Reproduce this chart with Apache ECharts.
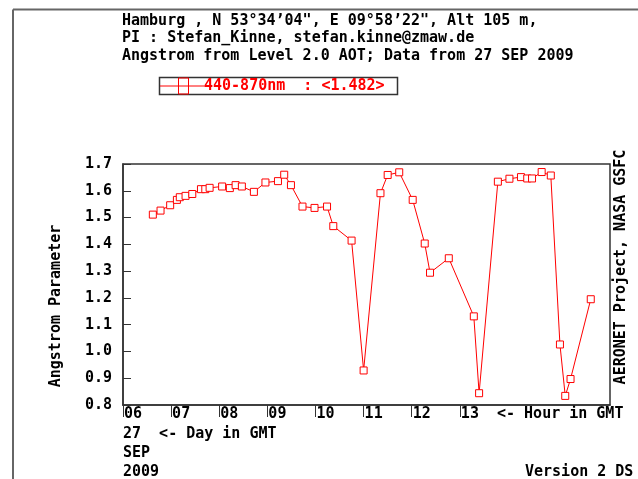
<!DOCTYPE html>
<html>
<head>
<meta charset="utf-8">
<script src="https://cdn.jsdelivr.net/npm/echarts@6/dist/echarts.min.js"></script>
<style>html,body{margin:0;padding:0;background:#fff;}#c{width:638px;height:479px;}</style>
</head>
<body>
<div id="c"></div>
<script>
// Data: hour of day (GMT) and Angstrom parameter (440-870nm)
var hours = [6.62, 6.78, 6.98, 7.12, 7.18, 7.30, 7.44, 7.62, 7.71, 7.80, 8.06, 8.22, 8.34, 8.47, 8.72, 8.96, 9.22, 9.35, 9.49, 9.73, 9.98, 10.24, 10.37, 10.75, 11.00, 11.35, 11.50, 11.74, 12.02, 12.27, 12.38, 12.77, 13.29, 13.40, 13.79, 14.03, 14.27, 14.40, 14.50, 14.70, 14.89, 15.08, 15.19, 15.30, 15.72];
var angstrom = [1.511, 1.526, 1.546, 1.566, 1.576, 1.581, 1.588, 1.606, 1.606, 1.611, 1.616, 1.610, 1.621, 1.616, 1.596, 1.631, 1.636, 1.660, 1.621, 1.541, 1.536, 1.541, 1.468, 1.414, 0.929, 1.591, 1.659, 1.669, 1.566, 1.403, 1.294, 1.348, 1.131, 0.844, 1.634, 1.645, 1.651, 1.646, 1.646, 1.670, 1.657, 1.026, 0.834, 0.897, 1.195];
var hourTicks = [6, 7, 8, 9, 10, 11, 12, 13];
var yTicks = [0.8, 0.9, 1.0, 1.1, 1.2, 1.3, 1.4, 1.5, 1.6, 1.7];
var titleLines = [
  'Hamburg , N 53\u00b034\u201904", E 09\u00b058\u201922", Alt 105 m,',
  'PI : Stefan_Kinne, stefan.kinne@zmaw.de',
  'Angstrom from Level 2.0 AOT; Data from 27 SEP 2009'
];
var legendText = '440-870nm  : <1.482>';
var dateLines = ['27  <- Day in GMT', 'SEP', '2009'];

var FONT = '"DejaVu Sans Mono", "Liberation Mono", monospace';
var pts = hours.map(function (h, i) { return [h, angstrom[i]]; });

function txt(x, y, s, opts) {
  opts = opts || {};
  return {
    type: 'text', x: x, y: y, rotation: opts.rot || 0, silent: true,
    style: {
      text: s, fill: opts.color || '#000', font: 'bold 15px ' + FONT,
      align: opts.align || 'left', verticalAlign: 'middle'
    }
  };
}

var graphics = [
  { type: 'line', shape: { x1: 13, y1: 9.5, x2: 638, y2: 9.5 }, style: { stroke: '#666', lineWidth: 2 } },
  { type: 'line', shape: { x1: 13, y1: 9.5, x2: 13, y2: 480 }, style: { stroke: '#666', lineWidth: 2 } },
  // legend
  { type: 'rect', shape: { x: 159.5, y: 77.5, width: 238, height: 17 }, style: { fill: 'none', stroke: '#333', lineWidth: 1.5 } },
  { type: 'line', shape: { x1: 160, y1: 86, x2: 206, y2: 86 }, style: { stroke: '#ff0000', lineWidth: 1 } },
  { type: 'rect', shape: { x: 178.5, y: 78, width: 10, height: 16 }, style: { fill: 'none', stroke: '#ff0000', lineWidth: 1 } },
  txt(204, 86.5, legendText, { color: '#ff0000' }),
  // axis titles
  txt(56, 306, 'Angstrom Parameter', { rot: Math.PI / 2, align: 'center' }),
  txt(621, 267, 'AERONET Project, NASA GSFC', { rot: Math.PI / 2, align: 'center' }),
  txt(497, 414.5, '<- Hour in GMT'),
  txt(525, 472.5, 'Version 2 DS')
];
titleLines.forEach(function (s, i) { graphics.push(txt(122, 21 + i * 17.5, s)); });
dateLines.forEach(function (s, i) { graphics.push(txt(123, 434.5 + i * 19, s)); });

var chart = echarts.init(document.getElementById('c'), null, { renderer: 'canvas' });
chart.setOption({
  animation: false,
  backgroundColor: '#fff',
  grid: { left: 123, right: 28, top: 164, bottom: 74, show: true, borderColor: '#333', borderWidth: 1.5, backgroundColor: 'transparent' },
  xAxis: {
    type: 'value', min: 6, max: 16.12,
    axisLine: { show: true, onZero: false, lineStyle: { color: '#333', width: 1.5 } },
    splitLine: { show: false },
    axisTick: { show: true, inside: false, length: 12, customValues: hourTicks, lineStyle: { color: '#333', width: 1 } },
    axisLabel: {
      customValues: hourTicks, margin: 2, align: 'left', verticalAlign: 'top', padding: [0, 0, 0, 1],
      fontFamily: FONT, fontWeight: 'bold', fontSize: 15, color: '#000',
      formatter: function (v) { return (v < 10 ? '0' : '') + Math.round(v); }
    }
  },
  yAxis: {
    type: 'value', min: 0.8, max: 1.7, interval: 0.1,
    axisLine: { show: true, lineStyle: { color: '#333', width: 1.5 } },
    splitLine: { show: false },
    axisTick: { show: true, inside: true, length: 8, customValues: yTicks, lineStyle: { color: '#333', width: 1 } },
    axisLabel: {
      customValues: yTicks, margin: 11, fontFamily: FONT, fontWeight: 'bold', fontSize: 15, color: '#000',
      formatter: function (v) { return v.toFixed(1); }
    }
  },
  series: [
    {
      type: 'line', data: pts, symbol: 'rect', symbolSize: 7, showAllSymbol: true,
      lineStyle: { color: '#ff0000', width: 1 },
      itemStyle: { color: '#fff', borderColor: '#ff0000', borderWidth: 1 }
    },
    {
      type: 'scatter', data: pts, symbol: 'rect', symbolSize: 1.5,
      itemStyle: { color: '#ff6666' }, silent: true
    }
  ],
  graphic: graphics
});
</script>
</body>
</html>
